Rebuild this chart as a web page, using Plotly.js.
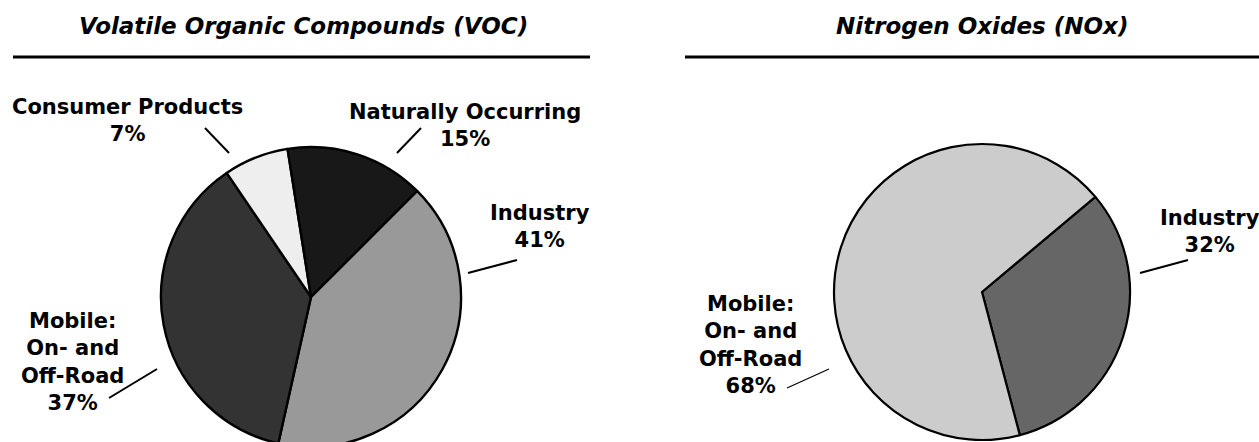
<!DOCTYPE html>
<html>
<head>
<meta charset="utf-8">
<script src="https://cdn.plot.ly/plotly-3.0.1.min.js"></script>
<style>
html,body{margin:0;padding:0;background:#fff;overflow:hidden;width:1259px;height:442px;}
#chart{width:1259px;height:460px;}
</style>
</head>
<body>
<div id="chart"></div>
<script>
// ---- data ----
var vocTitle = 'Volatile Organic Compounds (VOC)';
var vocLabels = ['Industry', 'Mobile:<br>On- and<br>Off-Road', 'Consumer Products', 'Naturally Occurring'];
var vocValues = [41, 37, 7, 15];
var vocColors = ['#999999', '#333333', '#eeeeee', '#181818'];

var noxTitle = 'Nitrogen Oxides (NOx)';
var noxLabels = ['Industry', 'Mobile:<br>On- and<br>Off-Road'];
var noxValues = [32, 68];
var noxColors = ['#666666', '#cccccc'];

// ---- layout helpers (pixel -> paper) ----
var W = 1259, H = 460;
function px(x){ return x / W; }
function py(y){ return 1 - y / H; }

var FONT = 'DejaVu Sans, Liberation Sans, Arial, sans-serif';

var traces = [
  {
    type: 'pie', values: vocValues, labels: vocLabels.map(function(l){return l.replace(/<br>/g,' ');}),
    sort: false, direction: 'clockwise', rotation: 45,
    marker: {colors: vocColors, line: {color: '#000', width: 2.4}},
    textinfo: 'none', hoverinfo: 'label+percent',
    domain: {x: [px(161), px(461)], y: [py(447), py(147)]}
  },
  {
    type: 'pie', values: noxValues, labels: noxLabels.map(function(l){return l.replace(/<br>/g,' ');}),
    sort: false, direction: 'clockwise', rotation: 50,
    marker: {colors: noxColors, line: {color: '#000', width: 2.2}},
    textinfo: 'none', hoverinfo: 'label+percent',
    domain: {x: [px(834), px(1130)], y: [py(440), py(144)]}
  }
];

// label positions (pixels): [centerX, centerY]
var vocLabelPos = [[540, 227], [72, 362], [128, 121], [465, 126]];
var noxLabelPos = [[1210, 231], [750, 345]];

var annotations = [];
function addLabels(labels, values, pos){
  labels.forEach(function(l, i){
    annotations.push({
      xref: 'paper', yref: 'paper', x: px(pos[i][0]), y: py(pos[i][1]),
      xanchor: 'center', yanchor: 'middle', showarrow: false,
      text: '<b>' + l + '<br>' + values[i] + '%</b>',
      font: {family: FONT, size: 21, color: '#000'}, align: 'center'
    });
  });
}
addLabels(vocLabels, vocValues, vocLabelPos);
addLabels(noxLabels, noxValues, noxLabelPos);

annotations.push({
  xref: 'paper', yref: 'paper', x: px(303), y: py(26), xanchor: 'center', yanchor: 'middle',
  showarrow: false, text: '<b><i>' + vocTitle + '</i></b>', font: {family: FONT, size: 23, color: '#000'}
});
annotations.push({
  xref: 'paper', yref: 'paper', x: px(982), y: py(26), xanchor: 'center', yanchor: 'middle',
  showarrow: false, text: '<b><i>' + noxTitle + '</i></b>', font: {family: FONT, size: 23, color: '#000'}
});

function seg(x0, y0, x1, y1, w){
  return {type: 'line', xref: 'paper', yref: 'paper', x0: px(x0), y0: py(y0), x1: px(x1), y1: py(y1),
          line: {color: '#000', width: w}};
}
var shapes = [
  seg(13, 57, 590, 57, 3),
  seg(685, 57, 1259, 57, 3),
  // VOC leaders
  seg(468, 273, 517, 260, 2),
  seg(157, 369, 109, 398, 2),
  seg(205, 128, 229, 153, 2),
  seg(421, 128, 397, 153, 2),
  // NOx leaders
  seg(1140, 273, 1188, 260, 2),
  seg(829, 369, 787, 388, 1.2)
];

var layout = {
  width: W, height: H,
  margin: {l: 0, r: 0, t: 0, b: 0},
  paper_bgcolor: '#fff', plot_bgcolor: '#fff',
  showlegend: false,
  annotations: annotations,
  shapes: shapes
};

Plotly.newPlot('chart', traces, layout, {staticPlot: true});
</script>
</body>
</html>
